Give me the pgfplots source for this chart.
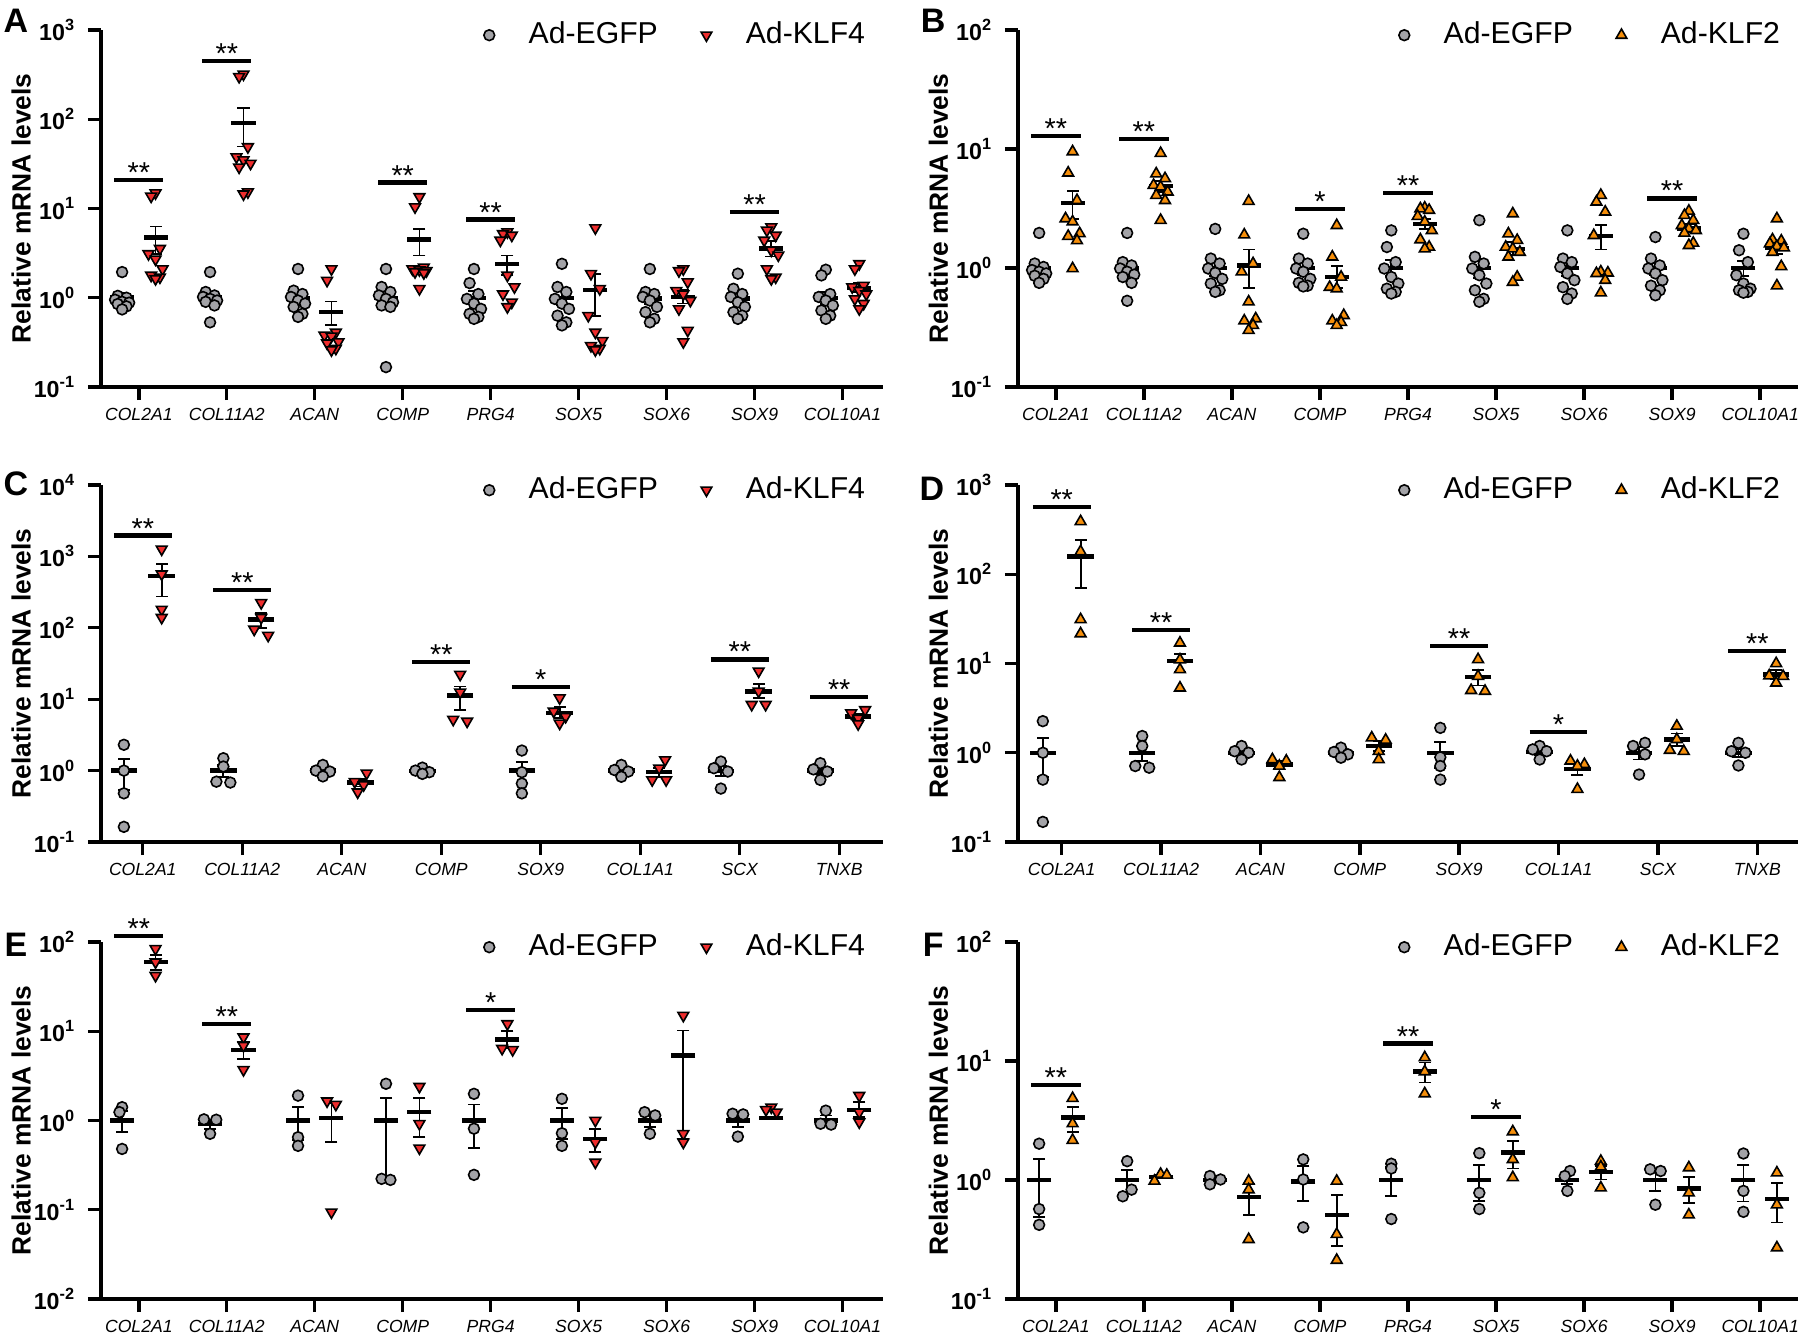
\documentclass[border=0pt]{standalone}
\usepackage{fontspec}
\setmainfont{Liberation Sans}
\setsansfont{Liberation Sans}
\usepackage{pgfplots}
\usepackage{pgfplotstable}
\pgfplotsset{compat=1.18}
\definecolor{egfp}{RGB}{163,163,167}
\definecolor{klfred}{RGB}{238,45,45}
\definecolor{klforange}{RGB}{245,142,10}
\newcommand{\tp}[1]{10\textsuperscript{#1}}

% ---------- data: c = category, j = horizontal jitter, v = value ----------
\pgfplotstableread[row sep=\\]{c j v\\
0 0 1.94\\0 -0.05 1.05\\0 0.05 1.0\\0 -0.08 0.95\\0 0 0.9\\0 0.08 0.88\\0 -0.05 0.85\\0 0.05 0.8\\0 0 0.74\\
1 0 1.94\\1 -0.05 1.16\\1 0.05 1.06\\1 -0.08 1.02\\1 0 0.97\\1 0.08 0.93\\1 -0.05 0.9\\1 0.05 0.82\\1 0 0.53\\
2 0 2.1\\2 -0.05 1.2\\2 0.05 1.1\\2 -0.08 1.02\\2 0 0.93\\2 0.08 0.86\\2 -0.05 0.79\\2 0.05 0.66\\2 0 0.61\\
3 0 2.1\\3 -0.05 1.32\\3 0.05 1.16\\3 -0.08 1.06\\3 0 0.97\\3 0.08 0.89\\3 -0.05 0.82\\3 0.05 0.79\\3 0 0.167\\
4 0 2.1\\4 -0.05 1.46\\4 0.05 1.1\\4 -0.08 0.97\\4 0 0.86\\4 0.08 0.75\\4 -0.05 0.66\\4 0.05 0.61\\4 0 0.58\\
5 0 2.4\\5 -0.05 1.32\\5 0.05 1.16\\5 -0.08 0.97\\5 0 0.86\\5 0.08 0.75\\5 -0.05 0.63\\5 0.05 0.53\\5 0 0.49\\
6 0 2.1\\6 -0.05 1.16\\6 0.05 1.1\\6 -0.08 1.02\\6 0 0.93\\6 0.08 0.79\\6 -0.05 0.69\\6 0.05 0.58\\6 0 0.53\\
7 0 1.86\\7 -0.05 1.26\\7 0.05 1.1\\7 -0.08 1.02\\7 0 0.89\\7 0.08 0.79\\7 -0.05 0.69\\7 0.05 0.63\\7 0 0.58\\
8 0 2.06\\8 -0.05 1.78\\8 0.05 1.1\\8 -0.08 1.02\\8 0 0.93\\8 0.08 0.82\\8 -0.05 0.72\\8 0.05 0.63\\8 0 0.58\\
}\tAeg
\pgfplotstableread[row sep=\\]{c j v\\
0 0 14.9\\0 -0.05 13.7\\0 0.05 3.55\\0 -0.08 3.1\\0 0 2.7\\0 0.08 2.1\\0 -0.05 1.78\\0 0.05 1.7\\0 0 1.63\\
1 0 320\\1 -0.05 300\\1 0.05 49\\1 -0.08 37.8\\1 0 35\\1 0.08 32\\1 -0.05 29\\1 0.05 15.3\\1 0 14.5\\
2 0 2.1\\2 -0.05 1.56\\2 0.05 0.41\\2 -0.08 0.38\\2 0 0.37\\2 0.08 0.32\\2 -0.05 0.31\\2 0.05 0.27\\2 0 0.26\\
3 0 13.5\\3 -0.05 10.4\\3 0.05 2.2\\3 -0.08 2.1\\3 0 2.05\\3 0.08 2.0\\3 -0.05 1.95\\3 0.05 1.9\\3 0 1.26\\
4 0 5.45\\4 -0.05 5.2\\4 0.05 5.0\\4 -0.08 4.4\\4 0 1.78\\4 0.08 1.32\\4 -0.05 1.1\\4 0.05 0.89\\4 0 0.79\\
5 0 6.05\\5 -0.05 1.86\\5 0.05 1.26\\5 -0.08 0.63\\5 0 0.41\\5 0.08 0.33\\5 -0.05 0.29\\5 0.05 0.27\\5 0 0.26\\
6 0 2.1\\6 -0.05 2.0\\6 0.05 1.5\\6 -0.08 1.2\\6 0 1.1\\6 0.08 0.93\\6 -0.05 0.75\\6 0.05 0.43\\6 0 0.32\\
7 0 6.2\\7 -0.05 5.7\\7 0.05 5.0\\7 -0.08 4.4\\7 0 3.4\\7 0.08 3.0\\7 -0.05 2.1\\7 0.05 1.7\\7 0 1.63\\
8 0 2.4\\8 -0.05 2.1\\8 0.05 1.37\\8 -0.08 1.32\\8 0 1.2\\8 0.08 1.1\\8 -0.05 0.97\\8 0.05 0.86\\8 0 0.75\\
}\tAkl
\pgfplotstableread[row sep=\\]{c j v\\
0 0 1.97\\0 -0.05 1.09\\0 0.05 1.02\\0 -0.08 0.96\\0 0 0.93\\0 0.08 0.9\\0 -0.05 0.86\\0 0.05 0.81\\0 0 0.75\\
1 0 1.97\\1 -0.05 1.12\\1 0.05 1.05\\1 -0.08 0.99\\1 0 0.93\\1 0.08 0.88\\1 -0.05 0.84\\1 0.05 0.75\\1 0 0.53\\
2 0 2.13\\2 -0.05 1.2\\2 0.05 1.09\\2 -0.08 0.99\\2 0 0.91\\2 0.08 0.81\\2 -0.05 0.74\\2 0.05 0.65\\2 0 0.63\\
3 0 1.94\\3 -0.05 1.2\\3 0.05 1.09\\3 -0.08 0.99\\3 0 0.93\\3 0.08 0.81\\3 -0.05 0.75\\3 0.05 0.71\\3 0 0.7\\
4 0 2.07\\4 -0.05 1.5\\4 0.05 1.12\\4 -0.08 0.99\\4 0 0.84\\4 0.08 0.74\\4 -0.05 0.67\\4 0.05 0.63\\4 0 0.61\\
5 0 2.52\\5 -0.05 1.24\\5 0.05 1.09\\5 -0.08 0.99\\5 0 0.87\\5 0.08 0.74\\5 -0.05 0.65\\5 0.05 0.55\\5 0 0.52\\
6 0 2.07\\6 -0.05 1.2\\6 0.05 1.12\\6 -0.08 1.02\\6 0 0.9\\6 0.08 0.79\\6 -0.05 0.69\\6 0.05 0.61\\6 0 0.55\\
7 0 1.82\\7 -0.05 1.2\\7 0.05 1.05\\7 -0.08 0.99\\7 0 0.9\\7 0.08 0.79\\7 -0.05 0.71\\7 0.05 0.65\\7 0 0.59\\
8 0 1.94\\8 -0.05 1.41\\8 0.05 1.12\\8 -0.08 0.87\\8 0 0.74\\8 0.08 0.67\\8 -0.05 0.65\\8 0.05 0.63\\8 0 0.62\\
}\tBeg
\pgfplotstableread[row sep=\\]{c j v\\
0 0 9.5\\0 -0.05 6.3\\0 0.05 3.7\\0 -0.08 2.6\\0 0 2.45\\0 0.08 1.95\\0 -0.05 1.85\\0 0.05 1.7\\0 0 0.99\\
1 0 9.2\\1 -0.05 6.2\\1 0.05 5.65\\1 -0.08 4.96\\1 0 4.8\\1 0.08 4.36\\1 -0.05 4.09\\1 0.05 3.7\\1 0 2.52\\
2 0 3.64\\2 -0.05 1.9\\2 0.05 1.09\\2 -0.08 0.93\\2 0 0.52\\2 0.08 0.375\\2 -0.05 0.36\\2 0.05 0.33\\2 0 0.3\\
3 0 2.28\\3 -0.05 1.24\\3 0.05 0.84\\3 -0.08 0.69\\3 0 0.67\\3 0.08 0.4\\3 -0.05 0.36\\3 0.05 0.35\\3 0 0.33\\
4 0 3.2\\4 -0.05 3.15\\4 0.05 3.06\\4 -0.08 2.72\\4 0 2.44\\4 0.08 2.07\\4 -0.05 1.73\\4 0.05 1.5\\4 0 1.45\\
5 0 2.86\\5 -0.05 1.94\\5 0.05 1.71\\5 -0.08 1.5\\5 0 1.45\\5 0.08 1.36\\5 -0.05 1.24\\5 0.05 0.84\\5 0 0.76\\
6 0 4.09\\6 -0.05 3.59\\6 0.05 2.96\\6 -0.08 1.88\\6 0 0.93\\6 0.08 0.91\\6 -0.05 0.9\\6 0.05 0.79\\6 0 0.62\\
7 0 3.01\\7 -0.05 2.77\\7 0.05 2.52\\7 -0.08 2.28\\7 0 2.14\\7 0.08 2.07\\7 -0.05 1.97\\7 0.05 1.62\\7 0 1.55\\
8 0 2.6\\8 -0.05 1.73\\8 0.05 1.69\\8 -0.08 1.6\\8 0 1.52\\8 0.08 1.48\\8 -0.05 1.36\\8 0.05 1.03\\8 0 0.71\\
}\tBkl
\pgfplotstableread[row sep=\\]{c j v\\
0 0 2.3\\0 0 1.0\\0 0 0.48\\0 0 0.163\\
1 0 1.49\\1 0 1.14\\1 -0.07 0.7\\1 0.07 0.68\\
2 0 1.2\\2 -0.07 1.0\\2 0.07 0.97\\2 0 0.83\\
3 0 1.1\\3 -0.07 1.0\\3 0.07 0.95\\3 0 0.9\\
4 0 1.91\\4 0 0.95\\4 0 0.66\\4 0 0.48\\
5 0 1.2\\5 -0.07 1.02\\5 0.07 0.97\\5 0 0.82\\
6 0 1.34\\6 -0.07 1.08\\6 0.07 0.97\\6 0 0.56\\
7 0 1.27\\7 -0.07 1.04\\7 0.07 0.97\\7 0 0.74\\
}\tCeg
\pgfplotstableread[row sep=\\]{c j v\\
0 0 1260\\0 0 565\\0 0 181\\0 0 139\\
1 0 224\\1 0 139\\1 -0.07 95\\1 0.07 78\\
2 0.06 0.92\\2 -0.06 0.7\\2 0.03 0.63\\2 -0.03 0.5\\
3 0 22.2\\3 0 12.5\\3 -0.07 5.2\\3 0.07 4.9\\
4 0 10.4\\4 -0.06 6.75\\4 0.06 5.7\\4 0 4.6\\
5 0.06 1.41\\5 0 1.08\\5 -0.07 0.74\\5 0.07 0.74\\
6 0 24.7\\6 0 12.9\\6 -0.07 8.4\\6 0.07 8.4\\
7 0.07 7.1\\7 -0.07 6.4\\7 0 5.4\\7 0 4.5\\
}\tCkl
\pgfplotstableread[row sep=\\]{c j v\\
0 0 2.26\\0 0 1.0\\0 0 0.5\\0 0 0.168\\
1 0 1.54\\1 0 1.19\\1 -0.07 0.71\\1 0.07 0.68\\
2 0 1.19\\2 -0.07 1.04\\2 0.07 1.0\\2 0 0.84\\
3 0 1.14\\3 -0.07 1.02\\3 0.07 0.96\\3 0 0.88\\
4 0 1.9\\4 0 0.89\\4 0 0.71\\4 0 0.5\\
5 0 1.19\\5 -0.07 1.09\\5 0.07 1.04\\5 0 0.84\\
6 0.06 1.29\\6 -0.06 1.19\\6 0.06 0.96\\6 0 0.57\\
7 0 1.29\\7 -0.07 1.04\\7 0.07 1.0\\7 0 0.72\\
}\tDeg
\pgfplotstableread[row sep=\\]{c j v\\
0 0 390\\0 0 180\\0 0 31.1\\0 0 21.6\\
1 0 17.0\\1 0 11.0\\1 0 8.56\\1 0 5.33\\
2 -0.07 0.84\\2 0.07 0.81\\2 0 0.71\\2 0 0.53\\
3 -0.07 1.47\\3 0.07 1.39\\3 0 1.04\\3 0 0.84\\
4 0 11.1\\4 0 7.2\\4 -0.07 5.0\\4 0.07 4.9\\
5 -0.07 0.81\\5 0.07 0.74\\5 0 0.71\\5 0 0.39\\
6 0 1.99\\6 0 1.41\\6 -0.07 1.07\\6 0.07 1.04\\
7 0 10.0\\7 -0.07 7.3\\7 0.07 7.2\\7 0 6.06\\
}\tDkl
\pgfplotstableread[row sep=\\]{c j v\\
0 0 1.41\\0 -0.03 1.24\\0 0 0.48\\
1 -0.07 1.03\\1 0.07 1.02\\1 0 0.71\\
2 0 1.9\\2 0 0.65\\2 0 0.52\\
3 0 2.58\\3 -0.05 0.222\\3 0.05 0.216\\
4 0 1.99\\4 0 0.81\\4 0 0.246\\
5 0 1.75\\5 0 0.72\\5 0 0.52\\
6 -0.06 1.24\\6 0.06 1.14\\6 0 0.71\\
7 -0.06 1.19\\7 0.06 1.17\\7 0 0.66\\
8 0 1.29\\8 -0.06 0.92\\8 0.06 0.9\\
}\tEeg
\pgfplotstableread[row sep=\\]{c j v\\
0 0 84\\0 0 59.6\\0 0 42\\
1 0 8.6\\1 0 6.9\\1 0 3.7\\
2 -0.05 1.65\\2 0.05 1.51\\2 0 0.094\\
3 0 2.4\\3 0 0.92\\3 0 0.49\\
4 0 12.1\\4 -0.06 6.4\\4 0.06 6.2\\
5 0 1.0\\5 0 0.57\\5 0 0.34\\
6 0 15.0\\6 0 0.71\\6 0 0.57\\
7 0 1.41\\7 -0.06 1.32\\7 0.06 1.24\\
8 0 1.9\\8 0 1.24\\8 0 0.96\\
}\tEkl
\pgfplotstableread[row sep=\\]{c j v\\
0 0 2.02\\0 0 0.57\\0 0 0.42\\
1 0 1.44\\1 0.05 0.83\\1 -0.05 0.73\\
2 -0.06 1.08\\2 0.06 1.01\\2 -0.06 0.92\\
3 0 1.49\\3 0 1.01\\3 0 0.4\\
4 0 1.37\\4 0 1.25\\4 0 0.47\\
5 0 1.68\\5 0 0.78\\5 0 0.57\\
6 0.03 1.19\\6 -0.03 1.08\\6 0 0.81\\
7 -0.06 1.23\\7 0.06 1.19\\7 0 0.62\\
8 0 1.67\\8 0 0.81\\8 0 0.54\\
}\tFeg
\pgfplotstableread[row sep=\\]{c j v\\
0 0 4.86\\0 0 2.98\\0 0 2.16\\
1 0 1.12\\1 0.07 1.1\\1 -0.07 0.98\\
2 0 0.98\\2 0 0.83\\2 0 0.317\\
3 0 0.98\\3 0 0.35\\3 0 0.212\\
4 0 10.7\\4 0 8.14\\4 0 5.32\\
5 0 2.55\\5 0 1.49\\5 0 1.05\\
6 0 1.44\\6 0 1.29\\6 0 0.86\\
7 0 1.27\\7 0 0.78\\7 0 0.51\\
8 0 1.15\\8 0 0.62\\8 0 0.27\\
}\tFkl

\pgfplotsset{
  every axis/.append style={
    scale only axis, height=89.25pt,
    axis x line*=bottom, axis y line*=left,
    axis line style={-, line width=0.9pt},
    tick align=outside, major tick length=3.3pt,
    tick style={line width=0.85pt, black},
    yminorticks=false,
    enlargelimits=false, clip=false, unbounded coords=jump,
    x tick label style={font=\fontsize{4.4}{5}\selectfont\itshape, yshift=1.6pt},
    y tick label style={font=\fontsize{5.8}{6}\selectfont\bfseries, xshift=0.6pt},
    ylabel={Relative mRNA levels},
    ylabel style={font=\fontsize{6.6}{7}\selectfont\bfseries, at={(axis description cs:-0.102,0.5)}, anchor=center},
    legend columns=2, legend cell align=left,
    legend style={draw=none, fill=none, at={(1,1)}, anchor=east, xshift=-2.8pt, yshift=-1.3pt,
      font=\fontsize{7.55}{8}\selectfont, inner sep=0pt, outer sep=0pt, nodes={inner sep=1.7pt},
      /tikz/every odd column/.append style={column sep=6.8pt},
      /tikz/every even column/.append style={column sep=9.1pt}},
  },
  ptEG/.style={only marks, mark=*, mark size=1.35pt, mark options={fill=egfp, draw=black, line width=0.4pt}},
  ptKfour/.style={only marks, mark=triangle*, mark size=1.55pt, mark options={fill=klfred, draw=black, line width=0.4pt, rotate=180}},
  ptKtwo/.style={only marks, mark=triangle*, mark size=1.55pt, mark options={fill=klforange, draw=black, line width=0.4pt}},
  meanNine/.style={only marks, mark=-, mark size=3pt, mark options={line width=1.1pt}, forget plot},
  meanEight/.style={only marks, mark=-, mark size=3.3pt, mark options={line width=1.1pt}, forget plot},
  errbarline/.style={black, line width=0.45pt, mark=-, mark size=1.5pt, mark options={line width=0.45pt}, forget plot},
  sigline/.style={black, line width=1.1pt, forget plot},
}
\tikzset{sigstar/.style={font=\fontsize{7.2}{8}\selectfont, anchor=base, yshift=-0.6pt, inner sep=0pt},
  plab/.style={font=\fontsize{8.5}{9}\selectfont\bfseries, anchor=center}}

\begin{document}
\begin{tikzpicture}
\useasboundingbox (0,0) rectangle (450pt,335.25pt);

% ================= A =================
\begin{semilogyaxis}[width=195.5pt, xmin=-0.43, xmax=8.46, xtick={0,1,2,3,4,5,6,7,8},
  xticklabels={COL2A1,COL11A2,ACAN,COMP,PRG4,SOX5,SOX6,SOX9,COL10A1},
  at={(25.25pt,238.5pt)}, anchor=south west, ymin=0.1, ymax=1000,
  ytick={0.1,1,10,100,1000}, yticklabels={\tp{-1},\tp{0},\tp{1},\tp{2},\tp{3}}]
\addplot[errbarline] coordinates {(-0.19,0.9)(-0.19,1.13)(-0.19,nan)(0.19,3.1)(0.19,6.3)(0.19,nan)
 (0.81,0.88)(0.81,1.14)(0.81,nan)(1.19,49.6)(1.19,133)(1.19,nan)(1.81,0.84)(1.81,1.13)(1.81,nan)
 (2.19,0.49)(2.19,0.91)(2.19,nan)(2.81,0.82)(2.81,1.2)(2.81,nan)(3.19,2.98)(3.19,5.85)(3.19,nan)
 (3.81,0.85)(3.81,1.18)(3.81,nan)(4.19,1.78)(4.19,2.98)(4.19,nan)(4.81,0.83)(4.81,1.2)(4.81,nan)
 (5.19,0.63)(5.19,1.86)(5.19,nan)(5.81,0.85)(5.81,1.13)(5.81,nan)(6.19,0.86)(6.19,1.23)(6.19,nan)
 (6.81,0.86)(6.81,1.12)(6.81,nan)(7.19,2.9)(7.19,4.3)(7.19,nan)(7.81,0.85)(7.81,1.17)(7.81,nan)
 (8.19,1.16)(8.19,1.46)};
\addplot[meanNine] coordinates {(-0.19,1.01)(0.19,4.71)(0.81,1.01)(1.19,91)(1.81,0.98)(2.19,0.69)
 (2.81,1.0)(3.19,4.5)(3.81,1.0)(4.19,2.4)(4.81,1.0)(5.19,1.23)(5.81,0.98)(6.19,1.02)(6.81,0.98)
 (7.19,3.55)(7.81,1.0)(8.19,1.29)};
\addplot[sigline] coordinates {(-0.28,20.7)(0.28,20.7)(0,nan)(0.72,447)(1.28,447)(1,nan)
 (2.72,19.5)(3.28,19.5)(3,nan)(3.72,7.5)(4.28,7.5)(4,nan)(6.72,9.1)(7.28,9.1)};
\addplot[ptEG] table[x expr=\thisrow{c}+\thisrow{j}-0.19, y=v] {\tAeg};
\addlegendentry{Ad-EGFP}
\addplot[ptKfour] table[x expr=\thisrow{c}+\thisrow{j}+0.19, y=v] {\tAkl};
\addlegendentry{Ad-KLF4}
\node[sigstar] at (axis cs:0,20.7) {**};
\node[sigstar] at (axis cs:1,447) {**};
\node[sigstar] at (axis cs:3,19.5) {**};
\node[sigstar] at (axis cs:4,7.5) {**};
\node[sigstar] at (axis cs:7,9.1) {**};
\end{semilogyaxis}

% ================= B =================
\begin{semilogyaxis}[width=195pt, xmin=-0.43, xmax=8.43, xtick={0,1,2,3,4,5,6,7,8},
  xticklabels={COL2A1,COL11A2,ACAN,COMP,PRG4,SOX5,SOX6,SOX9,COL10A1},
  at={(254.5pt,238.5pt)}, anchor=south west, ymin=0.1, ymax=100,
  ytick={0.1,1,10,100}, yticklabels={\tp{-1},\tp{0},\tp{1},\tp{2}}]
\addplot[errbarline] coordinates {(-0.19,0.93)(-0.19,1.08)(-0.19,nan)(0.19,2.6)(0.19,4.45)(0.19,nan)
 (0.81,0.89)(0.81,1.12)(0.81,nan)(1.19,4.36)(1.19,5.4)(1.19,nan)(1.81,0.86)(1.81,1.16)(1.81,nan)
 (2.19,0.68)(2.19,1.43)(2.19,nan)(2.81,0.88)(2.81,1.13)(2.81,nan)(3.19,0.68)(3.19,1.04)(3.19,nan)
 (3.81,0.85)(3.81,1.17)(3.81,nan)(4.19,2.14)(4.19,2.6)(4.19,nan)(4.81,0.82)(4.81,1.2)(4.81,nan)
 (5.19,1.28)(5.19,1.65)(5.19,nan)(5.81,0.85)(5.81,1.15)(5.81,nan)(6.19,1.43)(6.19,2.31)(6.19,nan)
 (6.81,0.88)(6.81,1.1)(6.81,nan)(7.19,2.0)(7.19,2.33)(7.19,nan)(7.81,0.86)(7.81,1.14)(7.81,nan)
 (8.19,1.32)(8.19,1.62)};
\addplot[meanNine] coordinates {(-0.19,1.0)(0.19,3.53)(0.81,1.0)(1.19,4.86)(1.81,1.0)(2.19,1.05)
 (2.81,1.0)(3.19,0.84)(3.81,1.0)(4.19,2.33)(4.81,1.0)(5.19,1.45)(5.81,1.0)(6.19,1.85)(6.81,1.0)
 (7.19,2.14)(7.81,1.0)(8.19,1.48)};
\addplot[sigline] coordinates {(-0.28,12.9)(0.28,12.9)(0,nan)(0.72,12.2)(1.28,12.2)(1,nan)
 (2.72,3.14)(3.28,3.14)(3,nan)(3.72,4.27)(4.28,4.27)(4,nan)(6.72,3.85)(7.28,3.85)};
\addplot[ptEG] table[x expr=\thisrow{c}+\thisrow{j}-0.19, y=v] {\tBeg};
\addlegendentry{Ad-EGFP}
\addplot[ptKtwo] table[x expr=\thisrow{c}+\thisrow{j}+0.19, y=v] {\tBkl};
\addlegendentry{Ad-KLF2}
\node[sigstar] at (axis cs:0,12.9) {**};
\node[sigstar] at (axis cs:1,12.2) {**};
\node[sigstar] at (axis cs:3,3.14) {*};
\node[sigstar] at (axis cs:4,4.27) {**};
\node[sigstar] at (axis cs:7,3.85) {**};
\end{semilogyaxis}

% ================= C =================
\begin{semilogyaxis}[width=195.5pt, xmin=-0.42, xmax=7.44, xtick={0,1,2,3,4,5,6,7},
  xticklabels={COL2A1,COL11A2,ACAN,COMP,SOX9,COL1A1,SCX,TNXB},
  at={(25.25pt,124.75pt)}, anchor=south west, ymin=0.1, ymax=10000,
  ytick={0.1,1,10,100,1000,10000}, yticklabels={\tp{-1},\tp{0},\tp{1},\tp{2},\tp{3},\tp{4}}]
\addplot[errbarline] coordinates {(-0.19,0.535)(-0.19,1.44)(-0.19,nan)(0.19,275)(0.19,780)(0.19,nan)
 (0.81,0.81)(0.81,1.2)(0.81,nan)(1.19,100)(1.19,162)(1.19,nan)(1.81,0.93)(1.81,1.07)(1.81,nan)
 (2.19,0.6)(2.19,0.76)(2.19,nan)(2.81,0.95)(2.81,1.04)(2.81,nan)(3.19,7.1)(3.19,15.1)(3.19,nan)
 (3.81,0.68)(3.81,1.32)(3.81,nan)(4.19,5.4)(4.19,7.7)(4.19,nan)(4.81,0.93)(4.81,1.07)(4.81,nan)
 (5.19,0.82)(5.19,1.1)(5.19,nan)(5.81,0.83)(5.81,1.15)(5.81,nan)(6.19,10.4)(6.19,16.5)(6.19,nan)
 (6.81,0.9)(6.81,1.11)(6.81,nan)(7.19,5.25)(7.19,6.25)};
\addplot[meanEight] coordinates {(-0.19,1.0)(0.19,533)(0.81,1.0)(1.19,131)(1.81,1.0)(2.19,0.68)
 (2.81,0.99)(3.19,11.2)(3.81,1.0)(4.19,6.4)(4.81,1.0)(5.19,0.95)(5.81,0.99)(6.19,12.9)(6.81,1.0)(7.19,5.75)};
\addplot[sigline] coordinates {(-0.29,1950)(0.29,1950)(0,nan)(0.71,338)(1.29,338)(1,nan)
 (2.71,33.3)(3.29,33.3)(3,nan)(3.71,14.8)(4.29,14.8)(4,nan)(5.71,36)(6.29,36)(6,nan)(6.71,10.7)(7.29,10.7)};
\addplot[ptEG] table[x expr=\thisrow{c}+\thisrow{j}-0.19, y=v] {\tCeg};
\addlegendentry{Ad-EGFP}
\addplot[ptKfour] table[x expr=\thisrow{c}+\thisrow{j}+0.19, y=v] {\tCkl};
\addlegendentry{Ad-KLF4}
\node[sigstar] at (axis cs:0,1950) {**};
\node[sigstar] at (axis cs:1,338) {**};
\node[sigstar] at (axis cs:3,33.3) {**};
\node[sigstar] at (axis cs:4,14.8) {*};
\node[sigstar] at (axis cs:6,36) {**};
\node[sigstar] at (axis cs:7,10.7) {**};
\end{semilogyaxis}

% ================= D =================
\begin{semilogyaxis}[width=195pt, xmin=-0.44, xmax=7.41, xtick={0,1,2,3,4,5,6,7},
  xticklabels={COL2A1,COL11A2,ACAN,COMP,SOX9,COL1A1,SCX,TNXB},
  at={(254.5pt,124.75pt)}, anchor=south west, ymin=0.1, ymax=1000,
  ytick={0.1,1,10,100,1000}, yticklabels={\tp{-1},\tp{0},\tp{1},\tp{2},\tp{3}}]
\addplot[errbarline] coordinates {(-0.19,0.54)(-0.19,1.45)(-0.19,nan)(0.19,70)(0.19,243)(0.19,nan)
 (0.81,0.8)(0.81,1.2)(0.81,nan)(1.19,8.0)(1.19,12.9)(1.19,nan)(1.81,0.93)(1.81,1.07)(1.81,nan)
 (2.19,0.66)(2.19,0.81)(2.19,nan)(2.81,0.95)(2.81,1.05)(2.81,nan)(3.19,1.04)(3.19,1.35)(3.19,nan)
 (3.81,0.68)(3.81,1.33)(3.81,nan)(4.19,5.66)(4.19,8.5)(4.19,nan)(4.81,0.95)(4.81,1.09)(4.81,nan)
 (5.19,0.56)(5.19,0.74)(5.19,nan)(5.81,0.84)(5.81,1.16)(5.81,nan)(6.19,1.19)(6.19,1.64)(6.19,nan)
 (6.81,0.9)(6.81,1.1)(6.81,nan)(7.19,6.7)(7.19,8.4)};
\addplot[meanEight] coordinates {(-0.19,1.0)(0.19,158)(0.81,1.0)(1.19,10.6)(1.81,1.0)(2.19,0.74)
 (2.81,1.0)(3.19,1.19)(3.81,1.0)(4.19,7.1)(4.81,1.02)(5.19,0.66)(5.81,1.0)(6.19,1.41)(6.81,1.0)(7.19,7.5)};
\addplot[sigline] coordinates {(-0.29,565)(0.29,565)(0,nan)(0.71,23.6)(1.29,23.6)(1,nan)
 (3.71,15.8)(4.29,15.8)(4,nan)(4.71,1.7)(5.29,1.7)(5,nan)(6.71,13.8)(7.29,13.8)};
\addplot[ptEG] table[x expr=\thisrow{c}+\thisrow{j}-0.19, y=v] {\tDeg};
\addlegendentry{Ad-EGFP}
\addplot[ptKtwo] table[x expr=\thisrow{c}+\thisrow{j}+0.19, y=v] {\tDkl};
\addlegendentry{Ad-KLF2}
\node[sigstar] at (axis cs:0,565) {**};
\node[sigstar] at (axis cs:1,23.6) {**};
\node[sigstar] at (axis cs:4,15.8) {**};
\node[sigstar] at (axis cs:5,1.7) {*};
\node[sigstar] at (axis cs:7,13.8) {**};
\end{semilogyaxis}

% ================= E =================
\begin{semilogyaxis}[width=195.5pt, xmin=-0.43, xmax=8.46, xtick={0,1,2,3,4,5,6,7,8},
  xticklabels={COL2A1,COL11A2,ACAN,COMP,PRG4,SOX5,SOX6,SOX9,COL10A1},
  at={(25.25pt,10.5pt)}, anchor=south west, ymin=0.01, ymax=100,
  ytick={0.01,0.1,1,10,100}, yticklabels={\tp{-2},\tp{-1},\tp{0},\tp{1},\tp{2}}]
\addplot[errbarline] coordinates {(-0.19,0.74)(-0.19,1.29)(-0.19,nan)(0.19,49)(0.19,71)(0.19,nan)
 (0.81,0.81)(0.81,1.02)(0.81,nan)(1.19,4.9)(1.19,7.6)(1.19,nan)(1.81,0.6)(1.81,1.41)(1.81,nan)
 (2.19,0.57)(2.19,1.56)(2.19,nan)(2.81,0.215)(2.81,1.8)(2.81,nan)(3.19,0.66)(3.19,1.8)(3.19,nan)
 (3.81,0.49)(3.81,1.51)(3.81,nan)(4.19,6.4)(4.19,10.0)(4.19,nan)(4.81,0.62)(4.81,1.39)(4.81,nan)
 (5.19,0.44)(5.19,0.81)(5.19,nan)(5.81,0.84)(5.81,1.16)(5.81,nan)(6.19,0.63)(6.19,10.2)(6.19,nan)
 (6.81,0.84)(6.81,1.16)(6.81,nan)(7.19,1.04)(7.19,1.1)(7.19,nan)(7.81,0.88)(7.81,1.14)(7.81,nan)
 (8.19,1.09)(8.19,1.6)};
\addplot[meanNine] coordinates {(-0.19,1.0)(0.19,60)(0.81,0.92)(1.19,6.2)(1.81,1.0)(2.19,1.06)
 (2.81,1.0)(3.19,1.24)(3.81,1.0)(4.19,8.1)(4.81,1.0)(5.19,0.62)(5.81,1.0)(6.19,5.35)(6.81,1.0)
 (7.19,1.07)(7.81,1.0)(8.19,1.32)};
\addplot[sigline] coordinates {(-0.28,116)(0.28,116)(0,nan)(0.72,12.1)(1.28,12.1)(1,nan)(3.72,17.4)(4.28,17.4)};
\addplot[ptEG] table[x expr=\thisrow{c}+\thisrow{j}-0.19, y=v] {\tEeg};
\addlegendentry{Ad-EGFP}
\addplot[ptKfour] table[x expr=\thisrow{c}+\thisrow{j}+0.19, y=v] {\tEkl};
\addlegendentry{Ad-KLF4}
\node[sigstar] at (axis cs:0,116) {**};
\node[sigstar] at (axis cs:1,12.1) {**};
\node[sigstar] at (axis cs:4,17.4) {*};
\end{semilogyaxis}

% ================= F =================
\begin{semilogyaxis}[width=195pt, xmin=-0.43, xmax=8.43, xtick={0,1,2,3,4,5,6,7,8},
  xticklabels={COL2A1,COL11A2,ACAN,COMP,PRG4,SOX5,SOX6,SOX9,COL10A1},
  at={(254.5pt,10.5pt)}, anchor=south west, ymin=0.1, ymax=100,
  ytick={0.1,1,10,100}, yticklabels={\tp{-1},\tp{0},\tp{1},\tp{2}}]
\addplot[errbarline] coordinates {(-0.19,0.49)(-0.19,1.49)(-0.19,nan)(0.19,2.55)(0.19,4.11)(0.19,nan)
 (0.81,0.78)(0.81,1.21)(0.81,nan)(1.19,1.03)(1.19,1.1)(1.19,nan)(1.81,0.96)(1.81,1.04)(1.81,nan)
 (2.19,0.51)(2.19,0.93)(2.19,nan)(2.81,0.67)(2.81,1.31)(2.81,nan)(3.19,0.28)(3.19,0.75)(3.19,nan)
 (3.81,0.73)(3.81,1.29)(3.81,nan)(4.19,6.6)(4.19,9.7)(4.19,nan)(4.81,0.67)(4.81,1.34)(4.81,nan)
 (5.19,1.25)(5.19,2.13)(5.19,nan)(5.81,0.92)(5.81,1.09)(5.81,nan)(6.19,1.01)(6.19,1.31)(6.19,nan)
 (6.81,0.81)(6.81,1.19)(6.81,nan)(7.19,0.64)(7.19,1.06)(7.19,nan)(7.81,0.66)(7.81,1.34)(7.81,nan)
 (8.19,0.44)(8.19,0.94)};
\addplot[meanNine] coordinates {(-0.19,1.0)(0.19,3.34)(0.81,1.0)(1.19,1.06)(1.81,1.0)(2.19,0.72)
 (2.81,0.97)(3.19,0.51)(3.81,1.0)(4.19,8.14)(4.81,1.0)(5.19,1.7)(5.81,1.0)(6.19,1.17)(6.81,1.0)
 (7.19,0.85)(7.81,1.0)(8.19,0.69)};
\addplot[sigline] coordinates {(-0.28,6.3)(0.28,6.3)(0,nan)(3.72,14.0)(4.28,14.0)(4,nan)(4.72,3.39)(5.28,3.39)};
\addplot[ptEG] table[x expr=\thisrow{c}+\thisrow{j}-0.19, y=v] {\tFeg};
\addlegendentry{Ad-EGFP}
\addplot[ptKtwo] table[x expr=\thisrow{c}+\thisrow{j}+0.19, y=v] {\tFkl};
\addlegendentry{Ad-KLF2}
\node[sigstar] at (axis cs:0,6.3) {**};
\node[sigstar] at (axis cs:4,14.0) {**};
\node[sigstar] at (axis cs:5,3.39) {*};
\end{semilogyaxis}

% panel letters
\node[plab] at (4pt,330pt) {A};
\node[plab] at (233.3pt,330pt) {B};
\node[plab] at (4pt,214.3pt) {C};
\node[plab] at (233pt,213pt) {D};
\node[plab] at (4pt,99pt) {E};
\node[plab] at (233.3pt,99pt) {F};
\end{tikzpicture}
\end{document}
